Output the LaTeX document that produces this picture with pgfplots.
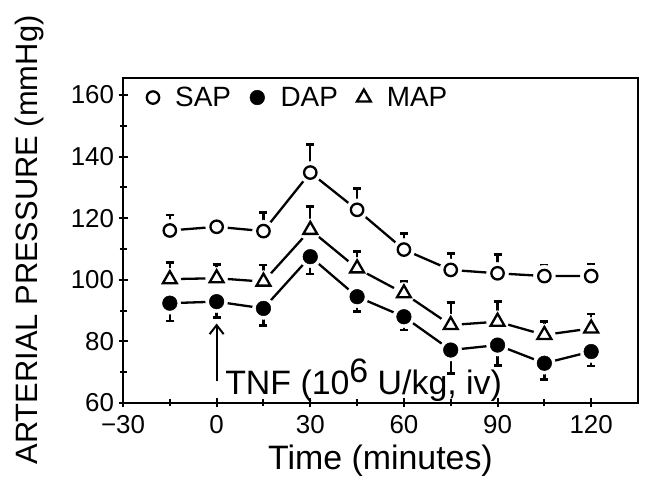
\documentclass[border=0pt]{standalone}
\usepackage{fontspec}
\setmainfont{Liberation Sans}
\usepackage{pgfplots}
\usepackage{pgfplotstable}
\pgfplotsset{compat=1.18}
\usetikzlibrary{arrows.meta}
\pgfplotstableread{
t    sap   sape  map   mape  dap   dape
-15  116.0 5.0   100.2 5.4   92.4  5.8
0    117.2 0.0   100.5 4.5   92.9  5.1
15   115.8 6.0   99.4  5.4   90.7  5.6
30   134.8 9.0   116.2 7.5   107.5 5.6
45   122.7 7.0   103.7 5.4   94.5  4.9
60   109.8 5.2   95.6  3.8   88.0  4.3
75   103.2 5.2   85.3  7.3   77.2  7.6
90   102.1 6.0   86.4  6.5   78.8  6.5
105  101.2 3.6   82.1  4.3   72.9  5.4
120  101.2 3.9   84.2  4.7   76.7  4.7
}\data
\begin{document}
\begin{tikzpicture}[x=1bp,y=1bp]
\useasboundingbox (0,0) rectangle (646,480);
\begin{axis}[
  at={(123bp,77bp)}, anchor=south west,
  width=515bp, height=325bp, scale only axis,
  xmin=-30, xmax=135, ymin=60, ymax=165.5,
  clip=false,
  xtick={-30,0,30,60,90,120},
  xticklabels={−30,0,30,60,90,120},
  minor xtick={-15,15,45,75,105},
  ytick={60,80,...,160},
  minor ytick={70,90,...,150},
  xtick pos=bottom, ytick pos=left,
  tick align=center,
  major tick length=9bp, minor tick length=7bp,
  every tick/.style={line width=2bp, black},
  axis line style={line width=2.5bp},
  ticklabel style={font=\fontsize{26}{26}\selectfont},
  xticklabel style={yshift=-4bp},
  yticklabel style={xshift=-1bp},
  /pgf/number format/assume math mode=true,
  xlabel={Time (minutes)},
  ylabel={ARTERIAL PRESSURE (mmHg)},
  xlabel style={font=\fontsize{34}{34}\selectfont, at={(axis description cs:0.5,-0.206)}, anchor=base},
  ylabel style={font=\fontsize{31}{31}\selectfont, at={(axis description cs:-0.1806,0.5015)}, anchor=center},
  legend columns=3,
  legend style={at={(0.04,0.985)}, anchor=north west, draw=none, fill=none,
    font=\fontsize{28}{28}\selectfont,
    /tikz/every odd column/.append style={column sep=14bp},
    /tikz/every even column/.append style={column sep=17bp}},
  legend cell align=left,
]
% lines
\addplot[line width=2.3bp, black, forget plot] table[x=t,y=sap]{\data};
\addplot[line width=2.3bp, black, forget plot] table[x=t,y=map]{\data};
\addplot[line width=2.3bp, black, forget plot] table[x=t,y=dap]{\data};
% halos
\addplot[only marks, mark=*, mark size=11bp, white, forget plot] table[x=t,y=sap]{\data};
\addplot[only marks, mark=*, mark size=11bp, white, forget plot] table[x=t,y=map]{\data};
\addplot[only marks, mark=*, mark size=11bp, white, forget plot] table[x=t,y=dap]{\data};
% error bars
\addplot[draw=none, no markers, forget plot, error bars/.cd, y dir=plus, y explicit,
  error mark=|, error bar style={line width=2.4bp, black},
  error mark options={mark size=4bp, line width=2.8bp, black}]
  table[x=t,y=sap,y error=sape]{\data};
\addplot[draw=none, no markers, forget plot, error bars/.cd, y dir=plus, y explicit,
  error mark=|, error bar style={line width=2.4bp, black},
  error mark options={mark size=4bp, line width=2.8bp, black}]
  table[x=t,y=map,y error=mape]{\data};
\addplot[draw=none, no markers, forget plot, error bars/.cd, y dir=minus, y explicit,
  error mark=|, error bar style={line width=2.4bp, black},
  error mark options={mark size=4bp, line width=2.8bp, black}]
  table[x=t,y=dap,y error=dape]{\data};
% marks
\addplot[only marks, mark=*, mark size=6.2bp, mark options={draw=black, fill=white, line width=2.3bp}] table[x=t,y=sap]{\data};
\addlegendentry{SAP}
\addplot[only marks, mark=*, mark size=7.3bp, mark options={draw=black, fill=black, line width=0.5bp}] table[x=t,y=dap]{\data};
\addlegendentry{DAP}
\addplot[only marks, mark=triangle*, mark size=8bp, mark options={draw=black, fill=white, line width=2.3bp}] table[x=t,y=map]{\data};
\addlegendentry{MAP}
% annotation
\draw[line width=2bp, -{Straight Barb[length=9bp,width=14bp,line width=2bp]}] (axis cs:0,67) -- (axis cs:0,85.8);
\node[anchor=base west, font=\fontsize{34}{34}\selectfont, inner sep=0pt] at (axis cs:2.7,62.6) {TNF (10\raisebox{12bp}{6} U/kg, iv)};
\end{axis}
\end{tikzpicture}
\end{document}
